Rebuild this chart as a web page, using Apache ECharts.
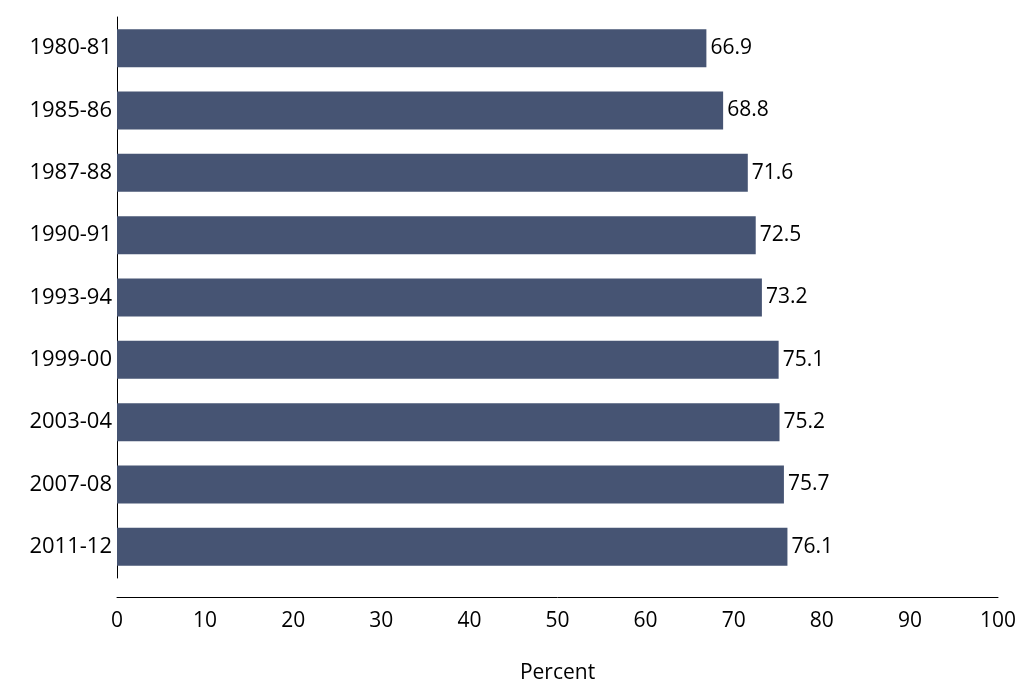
<!DOCTYPE html>
<html><head><meta charset="utf-8">
<script src="https://cdn.jsdelivr.net/npm/echarts@6/dist/echarts.min.js"></script>
<style>html,body{margin:0;background:#fff}#c{width:1018px;height:683px}</style>
</head><body><div id="c"></div>
<script>
var years = ['1980-81','1985-86','1987-88','1990-91','1993-94','1999-00','2003-04','2007-08','2011-12'];
var percent = [66.9, 68.8, 71.6, 72.5, 73.2, 75.1, 75.2, 75.7, 76.1];
var font = 'Open Sans';
var chart = echarts.init(document.getElementById('c'));
chart.setOption({
  animation: false,
  textStyle: { fontFamily: font },
  grid: { left: 117, right: 20, top: 17, bottom: 105, outerBoundsMode: 'none', containLabel: false },
  xAxis: {
    type: 'value', min: 0, max: 100, interval: 10, offset: 19,
    name: 'Percent', nameLocation: 'middle', nameGap: 66,
    nameTextStyle: { fontSize: 21, color: '#000', fontFamily: font },
    axisLine: { show: true, lineStyle: { color: '#000' } },
    axisTick: { show: false }, splitLine: { show: false },
    axisLabel: { fontSize: 21, color: '#000', margin: 14 }
  },
  yAxis: {
    type: 'category', data: years, inverse: true,
    axisLine: { show: true, lineStyle: { color: '#000' } },
    axisTick: { show: false },
    axisLabel: { fontSize: 22, color: '#000', margin: 5 }
  },
  series: [{
    type: 'bar', data: percent, barWidth: '61%',
    itemStyle: { color: '#465473' },
    label: { show: true, position: 'right', distance: 4, fontSize: 21, color: '#000' }
  }]
});
</script></body></html>
